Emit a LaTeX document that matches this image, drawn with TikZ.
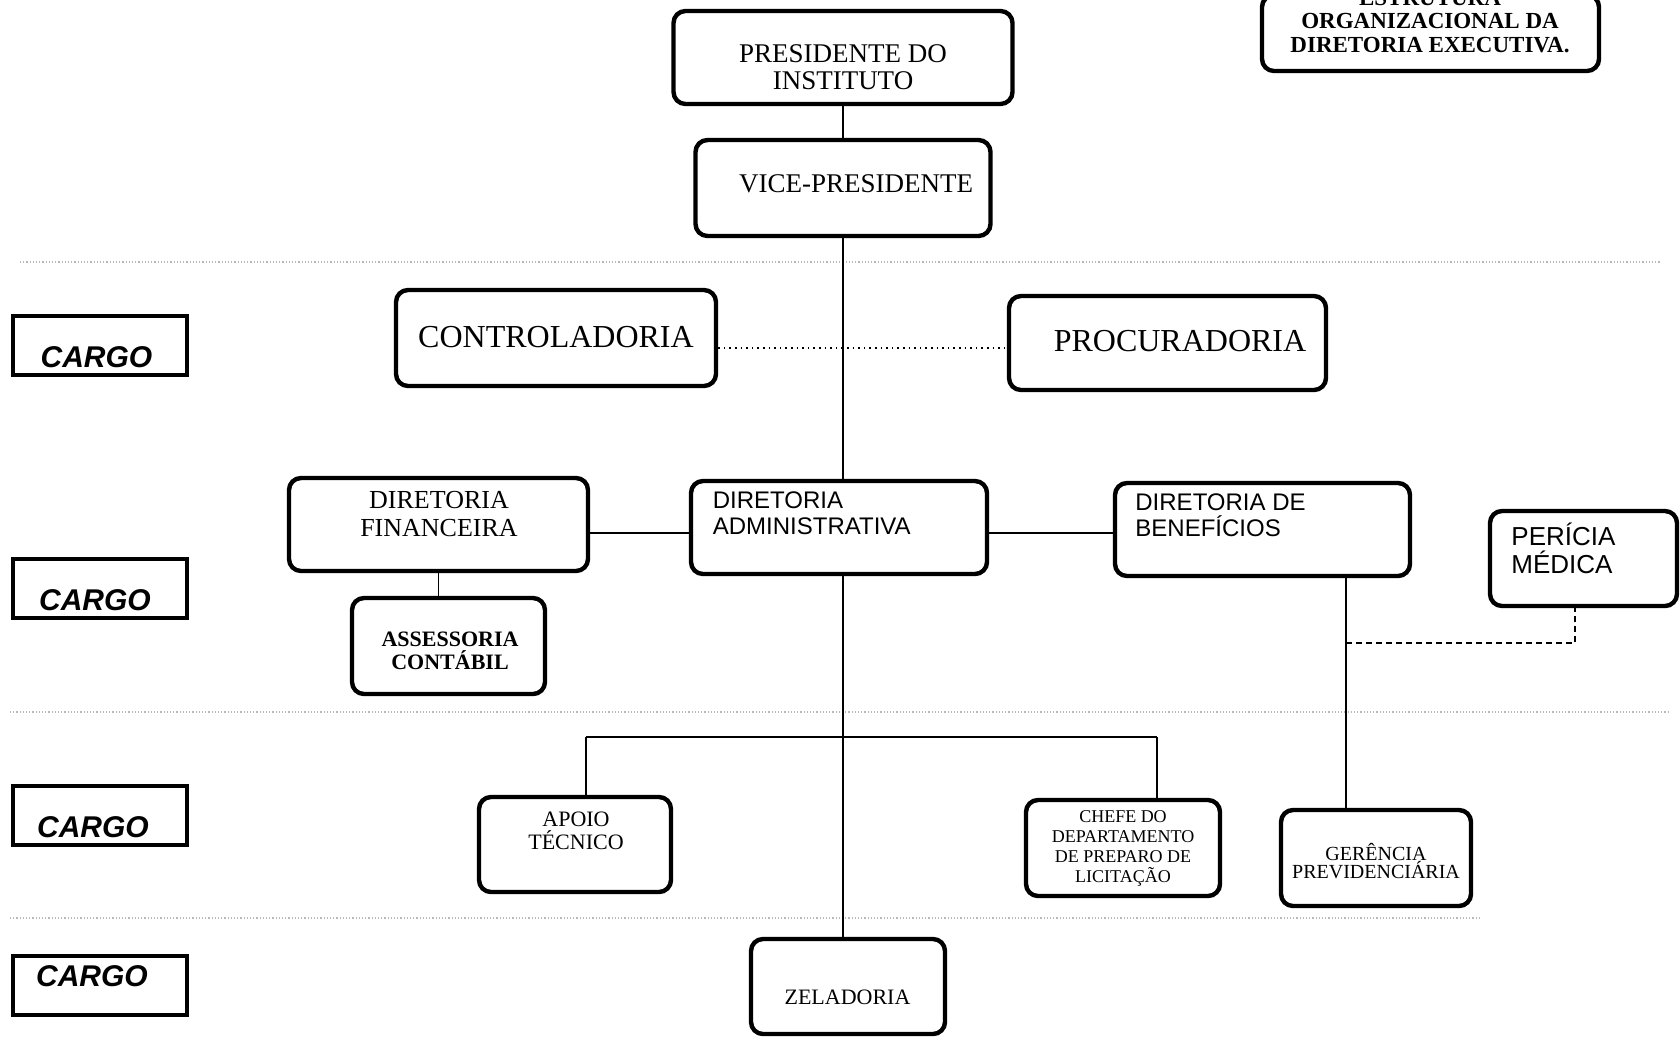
\documentclass[tikz,border=0pt]{standalone}
\usepackage{fontspec}
\setmainfont{Liberation Serif}
\setsansfont{Liberation Sans}

\begin{document}
\begin{tikzpicture}[x=0.5pt,y=-0.5pt,
  box/.style={draw,line width=2.2pt,rounded corners=6pt,inner sep=0pt},
  cargobox/.style={draw,line width=2pt,inner sep=0pt,minimum width=87pt,minimum height=29.5pt},
  txt/.style={align=center,inner sep=0pt},
  sanstxt/.style={align=left,inner sep=0pt,anchor=west},
  cargotxt/.style={inner sep=0pt,font=\sffamily\bfseries\itshape\fontsize{15}{15}\selectfont},
  link/.style={line width=0.8pt},
  sep/.style={gray!55,densely dotted,line width=0.6pt}]
  \useasboundingbox (0,0) rectangle (1680,1039);

  % faint row separators
  \draw[sep] (20,262) -- (1660,262);
  \draw[sep] (10,712) -- (1670,712);
  \draw[sep] (10,918) -- (1480,918);

  % title
  \node[box,minimum width=168.5pt,minimum height=38pt] (titulo) at (1430.5,33) {};
  \node[txt,font=\bfseries\fontsize{11.5}{11.75}\selectfont] (titulo-t) at (1430,21.5)
    {ESTRUTURA\\ORGANIZACIONAL DA\\DIRETORIA EXECUTIVA.};

  % cargo column
  \node[cargobox] (cargo1) at (100,345) {};
  \node[cargotxt] (cargo1-t) at (96.5,357) {CARGO};
  \node[cargobox] (cargo2) at (100,588.5) {};
  \node[cargotxt] (cargo2-t) at (95,600) {CARGO};
  \node[cargobox] (cargo3) at (100,815) {};
  \node[cargotxt] (cargo3-t) at (93,827) {CARGO};
  \node[cargobox] (cargo4) at (100,985) {};
  \node[cargotxt] (cargo4-t) at (92,976) {CARGO};

  % boxes
  \node[box,minimum width=169.5pt,minimum height=46.5pt] (pres) at (843,57.5) {};
  \node[txt,font=\fontsize{13.5}{13.7}\selectfont] (pres-t) at (843,67) {PRESIDENTE DO\\INSTITUTO};
  \node[box,minimum width=147.5pt,minimum height=48pt] (vice) at (843,188) {};
  \node[txt,font=\fontsize{13.5}{13.7}\selectfont] (vice-t) at (856,184) {VICE-PRESIDENTE};
  \node[box,minimum width=160pt,minimum height=48pt] (contr) at (556,338) {};
  \node[txt,font=\fontsize{16}{16}\selectfont] (contr-t) at (556,337.5) {CONTROLADORIA};
  \node[box,minimum width=158.5pt,minimum height=47pt] (procu) at (1167.5,343) {};
  \node[txt,font=\fontsize{16}{16}\selectfont] (procu-t) at (1180,341) {PROCURADORIA};

  \node[box,minimum width=149.5pt,minimum height=46.5pt] (fin) at (438.5,524.5) {};
  \node[txt,font=\fontsize{13}{14}\selectfont] (fin-t) at (439,514) {DIRETORIA\\FINANCEIRA};
  \node[box,minimum width=148pt,minimum height=46.5pt] (adm) at (839,527.5) {};
  \node[sanstxt,font=\sffamily\fontsize{12}{12.9}\selectfont] (adm-t) at (712.5,513) {DIRETORIA\\ADMINISTRATIVA};
  \node[box,minimum width=147.5pt,minimum height=46.5pt] (ben) at (1262.5,529.5) {};
  \node[sanstxt,font=\sffamily\fontsize{12}{12.9}\selectfont] (ben-t) at (1135,515) {DIRETORIA DE\\BENEFÍCIOS};
  \node[box,minimum width=93.5pt,minimum height=47.5pt] (peri) at (1583.5,558.5) {};
  \node[sanstxt,font=\sffamily\fontsize{13}{14}\selectfont] (peri-t) at (1511,548.5) {PERÍCIA\\MÉDICA};

  \node[box,minimum width=96.5pt,minimum height=48pt] (cont) at (448.5,646) {};
  \node[txt,font=\bfseries\fontsize{11}{11.8}\selectfont] (cont-t) at (450,651) {ASSESSORIA\\CONTÁBIL};
  \node[box,minimum width=96pt,minimum height=47.5pt] (apoio) at (575,844.5) {};
  \node[txt,font=\fontsize{11}{11.8}\selectfont] (apoio-t) at (576,831) {APOIO\\TÉCNICO};
  \node[box,minimum width=97pt,minimum height=48pt] (chefe) at (1123,848) {};
  \node[txt,font=\fontsize{9}{10}\selectfont] (chefe-t) at (1123,848.5)
    {CHEFE DO\\DEPARTAMENTO\\DE PREPARO DE\\LICITAÇÃO};
  \node[box,minimum width=95pt,minimum height=48pt] (geren) at (1376,858) {};
  \node[txt,font=\fontsize{10}{9.2}\selectfont] (geren-t) at (1376,861) {GERÊNCIA\\PREVIDENCIÁRIA};
  \node[box,minimum width=97pt,minimum height=47.5pt] (zela) at (848,986.5) {};
  \node[txt,font=\fontsize{11}{11}\selectfont] (zela-t) at (847.5,997.5) {ZELADORIA};

  % connectors
  \coordinate (hl) at (0,533);
  \coordinate (barL) at (586,737);
  \coordinate (barR) at (1157,737);
  \coordinate (bd) at (1346,643);
  \coordinate (pd) at (1575,643);
  \coordinate (dl) at (0,348);
  \path[link]
    (pres) edge (vice)
    (vice.south) edge (vice.south |- adm.north)
    (adm.south -| vice.south) edge (zela.north -| vice.south)
    (fin.east |- hl) edge (adm.west |- hl)
    (adm.east |- hl) edge (ben.west |- hl)
    (fin.south) edge (fin.south |- cont.north)
    (barL) edge (barR)
    (barL) edge (barL |- apoio.north)
    (barR) edge (barR |- chefe.north)
    (bd |- ben.south) edge (bd |- geren.north);
  \draw[link,dotted] (contr.east |- dl) -- (procu.west |- dl);
  \draw[link,densely dashed] (bd) -- (pd) -- (pd |- peri.south);
\end{tikzpicture}
\end{document}
